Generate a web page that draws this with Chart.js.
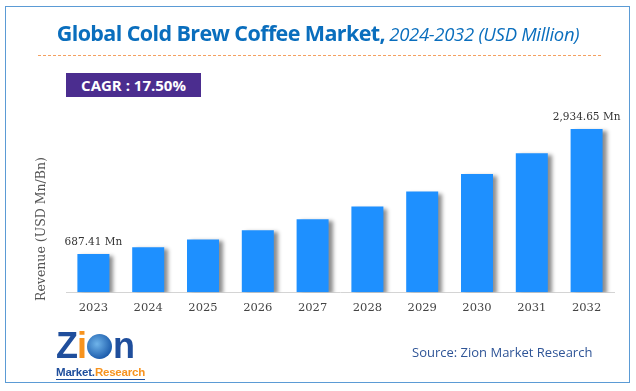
<!DOCTYPE html>
<html>
<head>
<meta charset="utf-8">
<script src="https://cdn.jsdelivr.net/npm/chart.js@4.4.1/dist/chart.umd.min.js"></script>
<style>
    html, body { margin: 0; padding: 0; background: #fff; }
    #wrap { position: relative; width: 636px; height: 391px; overflow: hidden; }
    #grafico { position: absolute; left: 0; top: 0; }
    .marco { position: absolute; left: 5px; top: 6px; width: 623px; height: 375px; border: 1.5px solid #5b9bd5; }
    .titulo { position: absolute; left: 0; top: 18px; width: 636px; text-align: center; color: #0a6ebd; font-family: "Open Sans", sans-serif; white-space: nowrap; }
    .titulo b { font-size: 21.5px; font-weight: 700; letter-spacing: -0.6px; }
    .titulo i { font-size: 18.5px; font-weight: 400; letter-spacing: -0.3px; }
    .linea { position: absolute; left: 38px; top: 55px; width: 563px; border-top: 1.5px dashed #f4a060; }
    .cagr { position: absolute; left: 66px; top: 73px; width: 135px; height: 24px; background: #4b2d8f; color: #fff; font: 700 15px "Open Sans", sans-serif; line-height: 24px; text-align: center; }
    .eje-y { position: absolute; left: 40px; top: 229px; transform: translate(-50%, -50%) rotate(-90deg); font: 12.5px "DejaVu Serif", serif; color: #555; white-space: nowrap; }
    .fuente { position: absolute; left: 412px; top: 343px; font: 13px "Open Sans", sans-serif; color: #2f5597; white-space: nowrap; }
    .logo { position: absolute; left: 56px; top: 329px; width: 90px; font-family: "Liberation Sans", sans-serif; }
    .logo .zion { font-size: 36px; font-weight: 700; color: #1f4e9c; letter-spacing: -1px; line-height: 33px; }
    .logo .zion .i { color: #f7931e; }
    .logo .globo { display: inline-block; width: 25px; height: 25px; border-radius: 50%; background: radial-gradient(circle at 40% 40%, #6fb4ea, #1f5fae 70%); vertical-align: -1px; margin: 0 1px; }
    .logo .mr { font-size: 11.5px; font-weight: 700; line-height: 13px; border-bottom: 1.5px solid #1f4e9c; display: inline-block; letter-spacing: -0.2px; }
    .logo .mr span.a { color: #1f4e9c; }
    .logo .mr span.b { color: #f7931e; }
</style>
</head>
<body>
<div id="wrap">
    <canvas id="grafico" width="636" height="391"></canvas>
    <div class="marco"></div>
    <div class="titulo"><b>Global Cold Brew Coffee Market,</b> <i>2024-2032 (USD Million)</i></div>
    <div class="linea"></div>
    <div class="cagr">CAGR : 17.50%</div>
    <div class="eje-y">Revenue (USD Mn/Bn)</div>
    <div class="logo">
        <div class="zion">Z<span class="i">i</span><span class="globo"></span>n</div>
        <div class="mr"><span class="a">Market.</span><span class="b">Research</span></div>
    </div>
    <div class="fuente">Source: Zion Market Research</div>
</div>
<script>
const anios = ['2023', '2024', '2025', '2026', '2027', '2028', '2029', '2030', '2031', '2032'];
const ingresos = [687.41, 807.7, 949.0, 1115.1, 1310.2, 1539.5, 1808.9, 2125.5, 2497.5, 2934.65];
const etiquetas = ['687.41 Mn', '', '', '', '', '', '', '', '', '2,934.65 Mn'];

// sombra gris a la derecha de cada barra
const sombraBarras = {
    id: 'sombraBarras',
    beforeDatasetDraw(chart) {
        const ctx = chart.ctx;
        ctx.save();
        ctx.shadowColor = 'rgba(0,0,0,0.45)';
        ctx.shadowOffsetX = 4;
        ctx.shadowOffsetY = 2;
        ctx.shadowBlur = 4;
    },
    afterDatasetDraw(chart) {
        chart.ctx.restore();
    }
};

const rotulos = {
    id: 'rotulos',
    afterDatasetsDraw(chart) {
        const ctx = chart.ctx;
        const meta = chart.getDatasetMeta(0);
        ctx.save();
        ctx.font = '10.5px "DejaVu Serif", serif';
        ctx.fillStyle = '#333';
        ctx.textAlign = 'center';
        ctx.textBaseline = 'bottom';
        meta.data.forEach(function (bar, i) {
            if (etiquetas[i]) {
                ctx.fillText(etiquetas[i], bar.x, bar.y - 6);
            }
        });
        ctx.restore();
    }
};

new Chart(document.getElementById('grafico'), {
    type: 'bar',
    data: {
        labels: anios,
        datasets: [{
            data: ingresos,
            backgroundColor: '#1e90ff',
            borderWidth: 0,
            barPercentage: 0.584,
            categoryPercentage: 1
        }]
    },
    options: {
        responsive: false,
        animation: false,
        events: [],
        layout: {
            padding: { left: 66, right: 22, top: 110, bottom: 67 }
        },
        plugins: {
            legend: { display: false },
            tooltip: { enabled: false }
        },
        scales: {
            x: {
                grid: { display: true, drawOnChartArea: false, drawTicks: false },
                border: { color: '#d4d4d4', width: 1 },
                ticks: {
                    padding: 9,
                    color: '#444',
                    font: { family: '"DejaVu Serif", serif', size: 11.5 }
                }
            },
            y: {
                display: false,
                min: 0,
                max: 3275
            }
        }
    },
    plugins: [sombraBarras, rotulos]
});
</script>
</body>
</html>
